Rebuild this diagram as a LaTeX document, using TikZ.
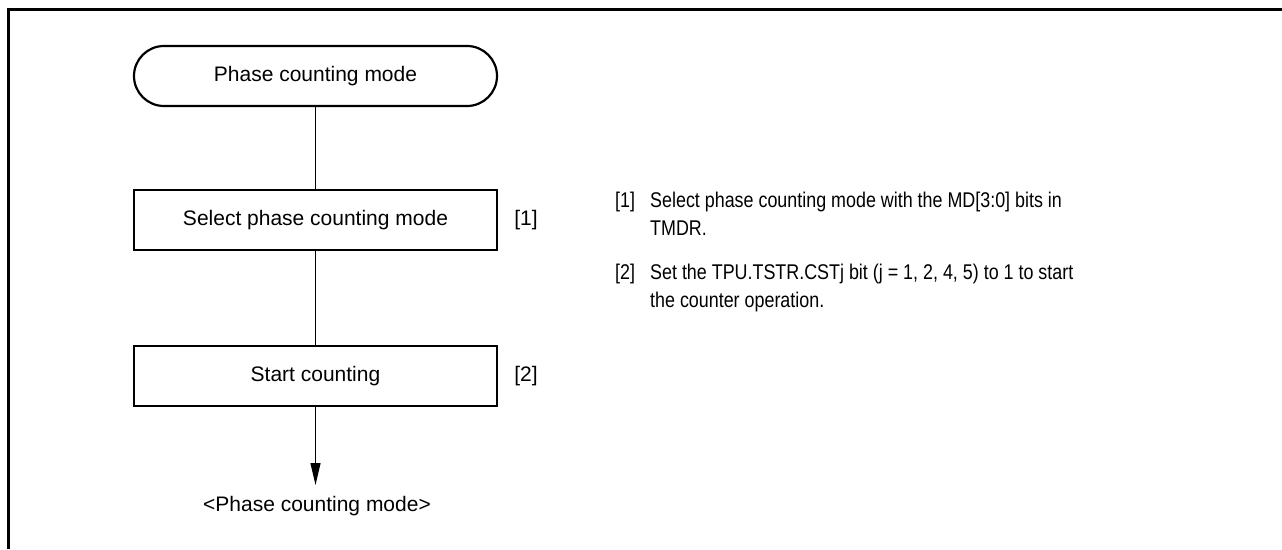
\documentclass[tikz,border=0pt]{standalone}
\usepackage{fontspec}
\setmainfont{Liberation Sans}
\newfontfamily\narrowfont[FakeStretch=0.84]{Liberation Sans}
\usetikzlibrary{arrows.meta}
\begin{document}
\begin{tikzpicture}[x=1pt,y=-1pt,
  txt/.style={font=\fontsize{21}{25}\selectfont, inner sep=0pt},
  note/.style={font=\narrowfont\fontsize{21.3}{25}\selectfont, inner sep=0pt, anchor=base west},
  term/.style={draw, line width=2.2pt, rounded corners=30pt, minimum width=363pt, minimum height=60pt, txt},
  proc/.style={draw, line width=2.4pt, minimum width=363pt, minimum height=60pt, txt},
  conn/.style={line width=1.2pt}]
\useasboundingbox (0,0) rectangle (1282,549);
\draw[line width=3pt] (8.5,549) -- (8.5,9.5) -- (1282,9.5);

\node[term] (t) at (315.5,76) {Phase counting mode};
\node[proc] (b1) at (315.5,220) {Select phase counting mode};
\node[proc] (b2) at (315.5,376) {Start counting};
\node[txt] (l1) at (526,220) {[1]};
\node[txt] (l2) at (526,376) {[2]};
\coordinate (tip) at (315.5,485);
\node[txt, anchor=base] (endl) at (317,511) {<Phase counting mode>};

\draw[conn] (t.south) -- (b1.north);
\draw[conn] (b1.south) -- (b2.north);
\draw[conn,-{Triangle[length=22pt,width=10pt]}] (b2.south) -- (tip);

\node[note] (n1) at (615,207) {[1]};
\node[note] (n1a) at (650,207) {Select phase counting mode with the MD[3:0] bits in};
\node[note] (n1b) at (650,235) {TMDR.};
\node[note] (n2) at (615,279) {[2]};
\node[note] (n2a) at (650,279) {Set the TPU.TSTR.CSTj bit (j = 1, 2, 4, 5) to 1 to start};
\node[note] (n2b) at (650,307) {the counter operation.};
\end{tikzpicture}
\end{document}
